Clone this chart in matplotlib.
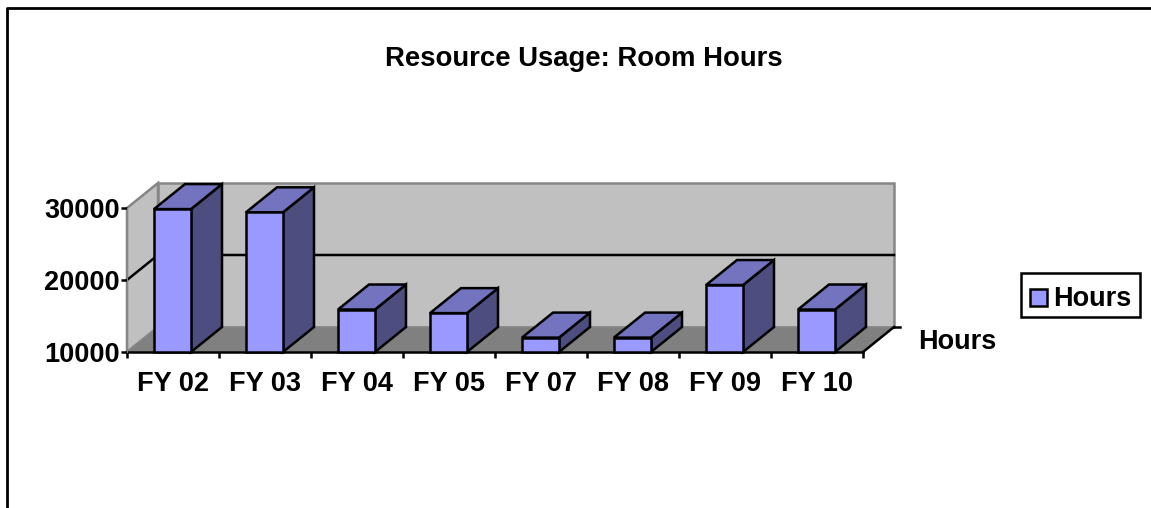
import numpy as np
from matplotlib import pyplot as plt
from matplotlib.patches import Polygon, Rectangle

W, H = 1151, 508

categories = ["FY 02", "FY 03", "FY 04", "FY 05", "FY 07", "FY 08", "FY 09", "FY 10"]
hours = [29850, 29400, 15900, 15400, 12000, 12000, 19300, 15900]
yticks = [10000, 20000, 30000]
series_name = "Hours"
title = "Resource Usage: Room Hours"

FRONT = "#9999FF"
TOP = "#7373BF"
SIDE = "#4D4D80"
WALL = "#C0C0C0"
FLOOR = "#808080"
EDGE = "#868686"

# fake 3d depth and bar width, converted from pixels to data units
PX_X = 92.0
PX_Y = 0.0072
DX = 31 / PX_X
DY = 25 / PX_Y
BAR_W = 37 / PX_X
BAR_OFF = 27 / PX_X
LW = 1.8
FS = 19.5

plt.rcParams['font.family'] = ['Liberation Sans', 'DejaVu Sans']
plt.rcParams['font.weight'] = 'bold'

fig = plt.figure(figsize=(W / 100, H / 100), dpi=100)

# axes box is the front plane of the chart
ax = fig.add_axes([127 / W, 1 - 352 / H, 736 / W, 144 / H])
ax.set_xlim(0, len(categories))
ax.set_ylim(10000, 30000)
ax.patch.set_visible(False)
for s in ax.spines.values():
    s.set_visible(False)

n = len(categories)
y0, y1 = yticks[0], yticks[-1]

# walls and floor
ax.add_patch(Polygon([(0, y0), (DX, y0 + DY), (DX, y1 + DY), (0, y1)], fc=WALL, ec=EDGE, lw=LW, clip_on=False, zorder=1))
ax.add_patch(Polygon([(DX, y0 + DY), (n + DX, y0 + DY), (n + DX, y1 + DY), (DX, y1 + DY)], fc=WALL, ec=EDGE, lw=LW, clip_on=False, zorder=1))
ax.add_patch(Polygon([(0, y0), (n, y0), (n + DX, y0 + DY), (DX, y0 + DY)], fc=FLOOR, ec=EDGE, lw=0.8, clip_on=False, zorder=1.5))

# gridline on the walls
ax.plot([0, DX, n + DX], [20000, 20000 + DY, 20000 + DY], color="black", lw=LW, clip_on=False, zorder=2)

# axis lines and ticks
ax.plot([0, n], [y0, y0], color="black", lw=LW, clip_on=False, zorder=2)
ax.plot([n, n + DX], [y0, y0 + DY], color="black", lw=LW, clip_on=False, zorder=2)
ax.plot([n + DX, n + DX + 0.06], [y0 + DY, y0 + DY], color="black", lw=LW, clip_on=False, zorder=2)
ax.plot([0, 0], [y0, y1], color=EDGE, lw=0.8, clip_on=False, zorder=2)

ax.set_yticks(yticks)
ax.set_yticklabels([str(v) for v in yticks], fontsize=FS, fontweight='bold')
ax.set_xticks(np.arange(n + 1))
ax.set_xticklabels([""] * (n + 1))
ax.tick_params(axis='both', length=4, width=LW, color="black", pad=1)

for i, name in enumerate(categories):
    ax.text(i + 0.5, 10000 - 4400, name, ha='center', va='center', fontsize=FS, fontweight='bold')

# bars
for i, v in enumerate(hours):
    left = i + BAR_OFF
    right = left + BAR_W
    ax.bar(left, v - y0, BAR_W, bottom=y0, align='edge', color=FRONT, edgecolor="black", linewidth=LW, clip_on=False, zorder=4)
    ax.add_patch(Polygon([(right, y0), (right + DX, y0 + DY), (right + DX, v + DY), (right, v)], fc=SIDE, ec="black", lw=LW, clip_on=False, zorder=3.5))
    ax.add_patch(Polygon([(left, v), (right, v), (right + DX, v + DY), (left + DX, v + DY)], fc=TOP, ec="black", lw=LW, clip_on=False, zorder=3.5))

# title, series label, legend, outer frame are placed in figure pixels
fig.text(584 / W, 1 - 59 / H, title, ha='center', va='center', fontsize=FS + 0.3, fontweight='bold')
fig.text(957 / W, 1 - 342 / H, series_name, ha='center', va='center', fontsize=FS, fontweight='bold')

fig.add_artist(Rectangle((1021 / W, 1 - 317 / H), 119 / W, 44 / H, transform=fig.transFigure, fc="white", ec="black", lw=LW))
fig.add_artist(Rectangle((1030 / W, 1 - 306 / H), 17 / W, 17 / H, transform=fig.transFigure, fc=FRONT, ec="black", lw=LW))
fig.text(1053 / W, 1 - 299 / H, series_name, ha='left', va='center', fontsize=FS, fontweight='bold')

fig.add_artist(plt.Line2D([7 / W, 7 / W, 1], [0, 1 - 8 / H, 1 - 8 / H], color="black", lw=2.0, transform=fig.transFigure))

fig.savefig("out.png", dpi=100)
